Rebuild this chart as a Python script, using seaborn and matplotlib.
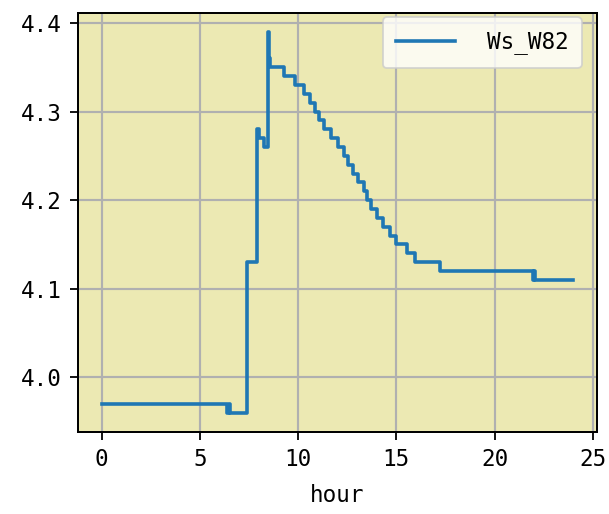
import numpy as np
import pandas as pd
import matplotlib
matplotlib.use('Agg')
import matplotlib.pyplot as plt
import seaborn as sns

# step change points (hour, wind speed)
hours = [0.0, 6.40, 6.46, 6.52, 7.42, 7.93, 8.00, 8.27, 8.47, 8.52, 8.57,
         9.30, 9.86, 10.29, 10.63, 10.88, 11.08, 11.31, 11.69, 12.05, 12.35,
         12.56, 12.81, 13.07, 13.35, 13.52, 13.73, 14.00, 14.34, 14.67, 15.00,
         15.54, 15.96, 17.23, 21.96, 22.02, 22.08, 24.0]
ws_w82 = [3.97, 3.96, 3.97, 3.96, 4.13, 4.28, 4.27, 4.26, 4.39, 4.36, 4.35,
          4.34, 4.33, 4.32, 4.31, 4.30, 4.29, 4.28, 4.27, 4.26, 4.25,
          4.24, 4.23, 4.22, 4.21, 4.20, 4.19, 4.18, 4.17, 4.16, 4.15,
          4.14, 4.13, 4.12, 4.11, 4.12, 4.11, 4.11]

df = pd.DataFrame({'hour': hours, 'Ws_W82': ws_w82})

plt.rcParams['font.family'] = ['DejaVu Sans Mono']
plt.rcParams['font.size'] = 12.5

dpi = 130
fig = plt.figure(figsize=(609 / dpi, 514 / dpi), dpi=dpi)
ax = fig.add_axes([0.128, 0.16, 0.852, 0.815])
ax.set_facecolor('#ECE9B3')

sns.lineplot(data=df, x='hour', y='Ws_W82', drawstyle='steps-post',
             color='#1f77b4', linewidth=2.0, label='Ws_W82', ax=ax)

ax.set_xticks([0, 5, 10, 15, 20, 25])
ax.set_yticks([4.0, 4.1, 4.2, 4.3, 4.4])
ax.set_ylabel('')
ax.set_xlabel('hour', labelpad=7)
ax.tick_params(length=4.5, width=1.0, pad=4.5)
ax.grid(True, color='#b0b0b0', linewidth=1.2)
ax.set_axisbelow(True)
for s in ax.spines.values():
    s.set_linewidth(1.1)

ax.legend(loc='upper right', handlelength=2.6, handletextpad=1.4,
          borderpad=0.6, borderaxespad=0,
          bbox_to_anchor=(582 / 609, 1 - 17 / 514), bbox_transform=fig.transFigure)

fig.savefig('out.png', dpi=dpi)
